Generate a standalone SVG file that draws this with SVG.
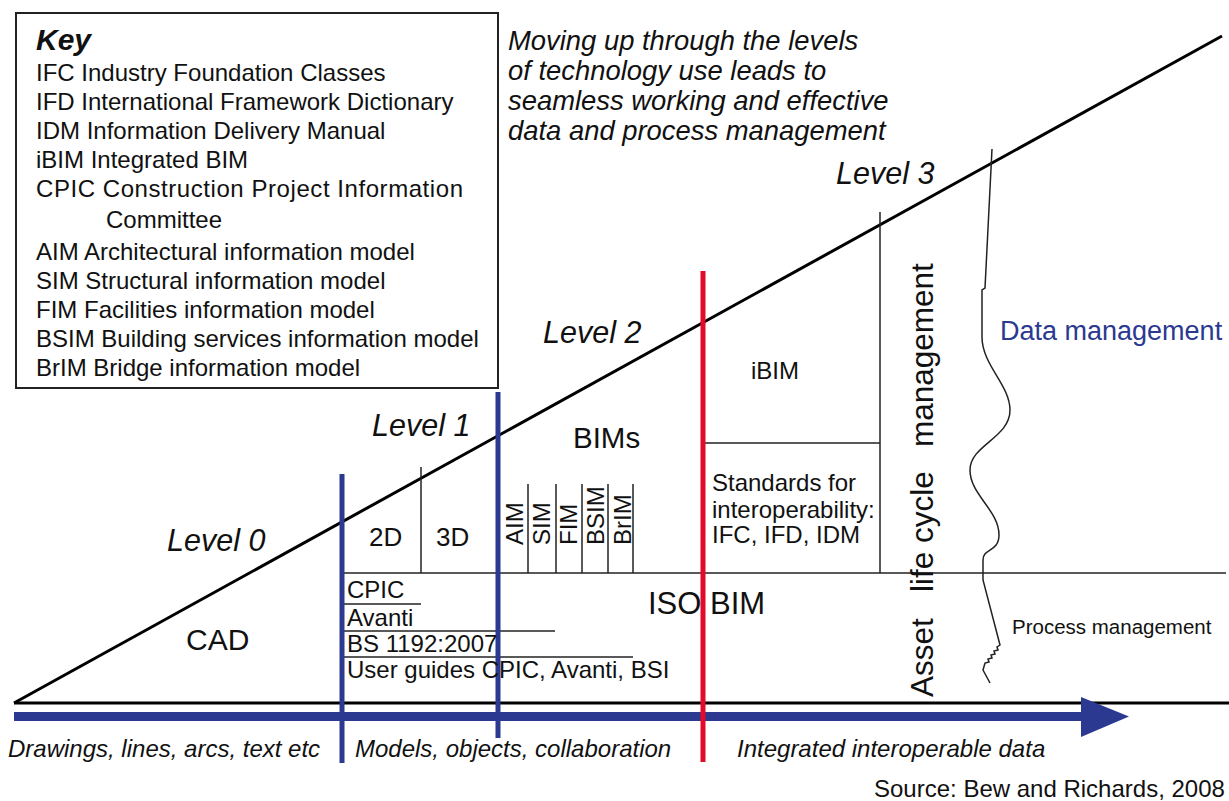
<svg xmlns="http://www.w3.org/2000/svg" width="1229" height="801" viewBox="0 0 1229 801">
<style>
text{font-family:"Liberation Sans",Arial,sans-serif;fill:#111;}
.k{font-size:24px;}
.it{font-style:italic;}
.lvl{font-size:30.5px;font-style:italic;}
.t24{font-size:24px;}
.thin{stroke:#222;stroke-width:1.5;fill:none;}
.thick{stroke:#000;stroke-width:3;fill:none;}
.blue{stroke:#2B3990;stroke-width:5;}
.red{stroke:#E30B2A;stroke-width:5;}
</style>
<rect width="1229" height="801" fill="#fff"/>

<g id="key">
<rect x="16" y="13" width="482" height="375" fill="none" stroke="#222" stroke-width="2"/>
<text x="36" y="50" style="font-size:30px;font-weight:bold;font-style:italic">Key</text>
<text class="k" x="36" y="81">IFC Industry Foundation Classes</text>
<text class="k" x="36" y="110">IFD International Framework Dictionary</text>
<text class="k" x="36" y="139">IDM Information Delivery Manual</text>
<text class="k" x="36" y="168">iBIM Integrated BIM</text>
<text class="k" x="36" y="197" textLength="427">CPIC Construction Project Information</text>
<text class="k" x="106" y="228">Committee</text>
<text class="k" x="36" y="260">AIM Architectural information model</text>
<text class="k" x="36" y="289">SIM Structural information model</text>
<text class="k" x="36" y="318">FIM Facilities information model</text>
<text class="k" x="36" y="347">BSIM Building services information model</text>
<text class="k" x="36" y="376">BrIM Bridge information model</text>
</g>

<g id="heading" style="font-size:27.4px;font-style:italic">
<text x="508" y="50">Moving up through the levels</text>
<text x="508" y="80">of technology use leads to</text>
<text x="508" y="110">seamless working and effective</text>
<text x="508" y="140">data and process management</text>
</g>

<g id="structure">
<line class="thick" x1="14" y1="703" x2="1222" y2="36"/>
<line class="thick" x1="14" y1="703" x2="1229" y2="703"/>
<line class="thin" x1="343" y1="573" x2="1226" y2="573"/>
<line class="thin" x1="421" y1="467" x2="421" y2="573"/>
<line class="thin" x1="528" y1="484" x2="528" y2="573"/>
<line class="thin" x1="556" y1="484" x2="556" y2="573"/>
<line class="thin" x1="582" y1="484" x2="582" y2="573"/>
<line class="thin" x1="608" y1="484" x2="608" y2="573"/>
<line class="thin" x1="633" y1="484" x2="633" y2="573"/>
<line class="thin" x1="343" y1="604" x2="421" y2="604"/>
<line class="thin" x1="343" y1="631" x2="555" y2="631"/>
<line class="thin" x1="343" y1="657" x2="633" y2="657"/>
<line class="thin" x1="880" y1="212" x2="880" y2="573"/>
<line class="thin" x1="705" y1="443" x2="880" y2="443"/>
</g>

<g id="curve">
<path class="thin" d="M992 149 L985 288 L982 290 L982 337 C982 365 1010 385 1010 410 C1010 438 970 445 970 470 C970 495 999 510 999 535 C999 552 983 548 983 560 L983 580 L1000 645 L997 647 L998 650 L994 651 L995 654 L991 655 L992 658 L988 659 L989 662 L985 663 L983 670 L990 683"/>
</g>

<g id="arrow">
<rect x="14" y="712" width="1070" height="9" fill="#2B3990"/>
<polygon points="1081,697 1129,716.5 1081,737" fill="#2B3990"/>
</g>

<g id="dividers">
<line class="blue" x1="342" y1="474" x2="342" y2="763"/>
<line class="blue" x1="498" y1="392" x2="498" y2="738"/>
<line class="red" x1="703" y1="271" x2="703" y2="762"/>
</g>

<g id="levels">
<text class="lvl" x="167" y="551">Level 0</text>
<text class="lvl" x="372" y="436">Level 1</text>
<text class="lvl" x="543" y="343">Level 2</text>
<text class="lvl" x="836" y="184">Level 3</text>
</g>

<g id="cad"><text x="186" y="650" style="font-size:30px">CAD</text></g>

<g id="level1-cells">
<text x="369" y="546" style="font-size:26px">2D</text>
<text x="436" y="546" style="font-size:26px">3D</text>
</g>

<g id="bims">
<text x="573" y="448" style="font-size:29.5px">BIMs</text>
<g style="font-size:24px">
<text transform="translate(523,545) rotate(-90)">AIM</text>
<text transform="translate(550,545) rotate(-90)">SIM</text>
<text transform="translate(577,545) rotate(-90)">FIM</text>
<text transform="translate(604,545) rotate(-90)">BSIM</text>
<text transform="translate(631,545) rotate(-90)">BrIM</text>
</g>
</g>

<g id="standards-docs">
<text class="t24" x="347" y="598">CPIC</text>
<text class="t24" x="347" y="626">Avanti</text>
<text class="t24" x="347" y="652">BS 1192:2007</text>
<text class="t24" x="347" y="678">User guides CPIC, Avanti, BSI</text>
</g>

<g id="isobim"><text x="648" y="614" style="font-size:31px">ISO BIM</text></g>

<g id="ibim"><text class="t24" x="751" y="379">iBIM</text></g>

<g id="interop">
<text class="t24" x="712" y="491">Standards for</text>
<text class="t24" x="712" y="518">interoperability:</text>
<text class="t24" x="712" y="543">IFC, IFD, IDM</text>
</g>

<g id="asset">
<text transform="translate(933,697) rotate(-90)" style="font-size:31.5px"><tspan x="0">Asset</tspan><tspan x="105">life</tspan><tspan x="154">cycle</tspan><tspan x="250">management</tspan></text>
</g>

<g id="mgmt">
<text x="1000" y="340" style="font-size:27px;fill:#2B3990">Data management</text>
<text x="1012" y="634" style="font-size:20.5px">Process management</text>
</g>

<g id="eras">
<text class="t24 it" x="8" y="757">Drawings, lines, arcs, text etc</text>
<text class="t24 it" x="355" y="757">Models, objects, collaboration</text>
<text class="t24 it" x="737" y="757">Integrated interoperable data</text>
</g>

<g id="source"><text class="t24" x="874" y="797">Source: Bew and Richards, 2008</text></g>
</svg>
